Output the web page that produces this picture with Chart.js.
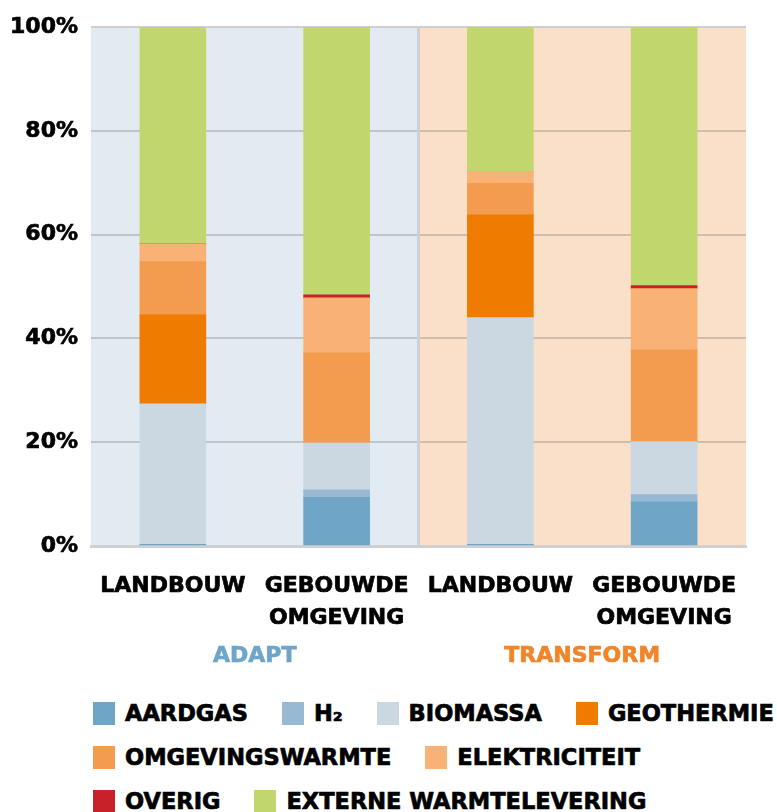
<!doctype html>
<html lang="nl">

<head>
    <meta charset="utf-8">
    <meta name="viewport" content="width=device-width, initial-scale=1">
    <title>Warmtevoorziening adapt / transform</title>
    <script src="https://cdn.jsdelivr.net/npm/chart.js@4.4.0/dist/chart.umd.min.js"></script>
    <style>
        body {
            margin: 0;
            background: #fff;
            font-family: "DejaVu Sans", sans-serif;
        }

        #wrap {
            position: relative;
            width: 777px;
            height: 680px;
        }

        #legend {
            margin-top: 11px;
            padding-left: 93px;
            font-weight: bold;
            font-size: 22.5px;
            color: #000;
            -webkit-text-stroke: 0.7px #000;
        }

        .row {
            display: flex;
            align-items: center;
            height: 44px;
            gap: 34px;
        }

        .item {
            display: flex;
            align-items: center;
            white-space: nowrap;
        }

        .box {
            width: 22px;
            height: 23px;
            margin-right: 10px;
        }
    </style>
</head>

<body>
    <div id="wrap">
        <canvas id="myChart"></canvas>
    </div>
    <div id="legend"></div>

    <script type="text/javascript">
        // categories
        var labels = [['LANDBOUW'], ['GEBOUWDE', 'OMGEVING'], ['LANDBOUW'], ['GEBOUWDE', 'OMGEVING']];
        var groups = ['ADAPT', 'TRANSFORM'];
        var groupColors = ['#6fa5c8', '#f0852a'];

        // share per energy source, percent of total
        var aardgas = [0.3, 9.4, 0.3, 8.5];
        var h2 = [0, 1.4, 0, 1.4];
        var biomassa = [27.1, 9.1, 43.7, 10.2];
        var geothermie = [17.2, 0, 19.8, 0];
        var omgevingswarmte = [10.2, 17.3, 6.1, 17.7];
        var elektriciteit = [3.4, 10.6, 2.3, 11.8];
        var overig = [0, 0.6, 0, 0.6];
        var externeWarmte = [41.8, 51.6, 27.8, 49.8];

        var yTicks = [0, 20, 40, 60, 80, 100];

        // legend rows as in the original layout
        var legendRows = [[0, 1, 2, 3], [4, 5], [6, 7]];

        const COLORS = {
            aardgas: '#6fa5c6',
            h2: '#97b9d3',
            biomassa: '#cbd8e2',
            geothermie: '#ef7b00',
            omgevingswarmte: '#f39c4f',
            elektriciteit: '#f8b275',
            overig: '#c8212a',
            extern: '#c2d66e',
        };

        var datasets = [
            { label: 'AARDGAS', data: aardgas, backgroundColor: COLORS.aardgas },
            { label: 'H₂', data: h2, backgroundColor: COLORS.h2 },
            { label: 'BIOMASSA', data: biomassa, backgroundColor: COLORS.biomassa },
            { label: 'GEOTHERMIE', data: geothermie, backgroundColor: COLORS.geothermie },
            { label: 'OMGEVINGSWARMTE', data: omgevingswarmte, backgroundColor: COLORS.omgevingswarmte },
            { label: 'ELEKTRICITEIT', data: elektriciteit, backgroundColor: COLORS.elektriciteit },
            { label: 'OVERIG', data: overig, backgroundColor: COLORS.overig },
            { label: 'EXTERNE WARMTELEVERING', data: externeWarmte, backgroundColor: COLORS.extern },
        ];

        // light blue / peach panels behind the two scenarios, plus divider
        const panels = {
            id: 'panels',
            beforeDraw(chart) {
                var ctx = chart.ctx;
                var area = chart.chartArea;
                var x = chart.scales.x;
                var mid = (x.getPixelForValue(1) + x.getPixelForValue(2)) / 2;
                ctx.save();
                ctx.fillStyle = '#e3ebf2';
                ctx.fillRect(area.left, area.top, mid - area.left, area.bottom - area.top);
                ctx.fillStyle = '#fae0c8';
                ctx.fillRect(mid, area.top, area.right - mid, area.bottom - area.top);
                ctx.restore();
            },
            beforeDatasetsDraw(chart) {
                var ctx = chart.ctx;
                var area = chart.chartArea;
                var x = chart.scales.x;
                var mid = (x.getPixelForValue(1) + x.getPixelForValue(2)) / 2;
                ctx.save();
                ctx.strokeStyle = '#d0d0d0';
                ctx.lineWidth = 3;
                ctx.beginPath();
                ctx.moveTo(mid, area.top);
                ctx.lineTo(mid, area.bottom);
                ctx.stroke();
                ctx.restore();
            }
        };

        var tickFont = { family: 'DejaVu Sans', weight: 'bold', size: 22 };

        var ctx = document.getElementById('myChart');
        var chart = new Chart(ctx, {
            type: 'bar',
            data: {
                labels: labels,
                datasets: datasets,
            },
            plugins: [panels],
            options: {
                responsive: true,
                maintainAspectRatio: false,
                animation: false,
                layout: {
                    padding: { top: 27, right: 31, bottom: 2, left: 10 }
                },
                datasets: {
                    bar: { barThickness: 66, borderWidth: 0 }
                },
                plugins: {
                    legend: { display: false },
                    tooltip: { enabled: false },
                },
                scales: {
                    x: {
                        stacked: true,
                        afterFit: (axis) => {
                            axis.height = 90;
                        },
                        grid: { display: false, drawTicks: false },
                        border: { display: true, color: '#d0d0d0', width: 3 },
                        ticks: {
                            color: '#000',
                            padding: 24,
                            maxRotation: 0,
                            autoSkip: false,
                            textStrokeColor: '#000',
                            textStrokeWidth: 0.7,
                            font: { family: 'DejaVu Sans', weight: 'bold', size: 22, lineHeight: 1.45 },
                        },
                    },
                    group: {
                        type: 'category',
                        labels: groups,
                        position: 'bottom',
                        afterFit: (axis) => {
                            axis.height = 42;
                        },
                        grid: { display: false, drawTicks: false },
                        border: { display: false },
                        ticks: {
                            padding: 7,
                            color: (c) => groupColors[c.index],
                            textStrokeColor: (c) => groupColors[c.index],
                            textStrokeWidth: 0.7,
                            font: tickFont,
                        },
                    },
                    y: {
                        stacked: true,
                        min: 0,
                        max: 100,
                        afterBuildTicks: (axis) => {
                            axis.ticks = yTicks.map((v) => ({ value: v }));
                        },
                        afterFit: (axis) => {
                            axis.width = 81;
                        },
                        grid: {
                            drawTicks: false,
                            lineWidth: 2,
                            color: (c) => {
                                if (c.tick.value === 100) return '#cfcfcf';
                                if (c.tick.value === 0) return 'rgba(0,0,0,0)';
                                return 'rgba(100,100,100,0.28)';
                            },
                        },
                        border: { display: false },
                        ticks: {
                            color: '#000',
                            padding: 13,
                            textStrokeColor: '#000',
                            textStrokeWidth: 0.7,
                            callback: (v) => v + '%',
                            font: tickFont,
                        },
                    },
                },
            }
        });

        // legend built from the chart datasets
        var legend = document.getElementById('legend');
        legendRows.forEach((row) => {
            var rowDiv = document.createElement('div');
            rowDiv.className = 'row';
            row.forEach((i) => {
                var ds = chart.data.datasets[i];
                var item = document.createElement('div');
                item.className = 'item';
                var box = document.createElement('span');
                box.className = 'box';
                box.style.background = ds.backgroundColor;
                var text = document.createElement('span');
                text.textContent = ds.label;
                item.appendChild(box);
                item.appendChild(text);
                rowDiv.appendChild(item);
            });
            legend.appendChild(rowDiv);
        });
    </script>
</body>

</html>
